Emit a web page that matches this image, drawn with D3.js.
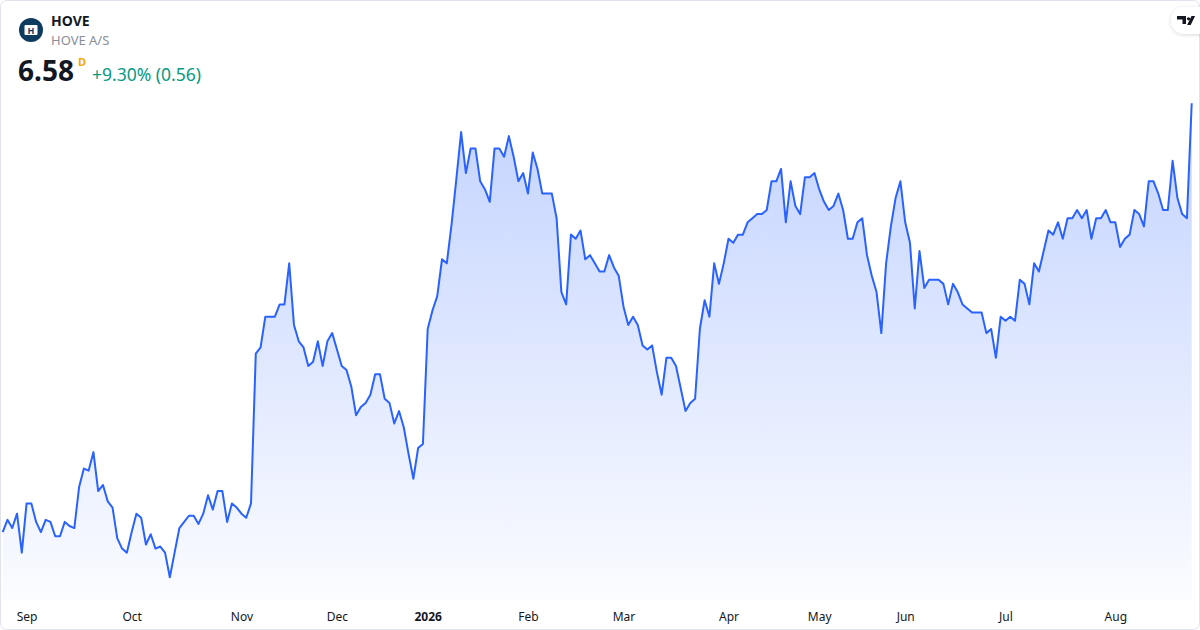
<!DOCTYPE html>
<html>
<head>
<meta charset="utf-8">
<script src="https://cdn.jsdelivr.net/npm/d3@7"></script>
<style>
  html, body { margin: 0; padding: 0; background: #fff; }
  svg { display: block; font-family: "Noto Sans", "Open Sans", sans-serif; }
</style>
</head>
<body>
<svg id="chart" width="1200" height="630"></svg>
<script>
// daily closes, HOVE A/S, Aug 2025 - Aug 2026
var closes = [
  4.49, 4.55, 4.51, 4.58, 4.39, 4.63, 4.63, 4.54, 4.49, 4.55,
  4.54, 4.47, 4.47, 4.54, 4.52, 4.51, 4.71, 4.80, 4.79, 4.88,
  4.69, 4.72, 4.64, 4.61, 4.46, 4.41, 4.39, 4.49, 4.58, 4.56,
  4.43, 4.48, 4.41, 4.42, 4.39, 4.27, 4.39, 4.51, 4.54, 4.57,
  4.57, 4.53, 4.58, 4.67, 4.60, 4.69, 4.69, 4.54, 4.63, 4.61,
  4.58, 4.56, 4.63, 5.36, 5.39, 5.54, 5.54, 5.54, 5.60, 5.60,
  5.80, 5.50, 5.42, 5.39, 5.30, 5.32, 5.42, 5.30, 5.42, 5.46,
  5.38, 5.30, 5.28, 5.20, 5.06, 5.10, 5.12, 5.16, 5.26, 5.26,
  5.14, 5.12, 5.02, 5.08, 5.00, 4.87, 4.75, 4.90, 4.92, 5.48,
  5.57, 5.64, 5.82, 5.80, 5.99, 6.21, 6.44, 6.24, 6.36, 6.36,
  6.20, 6.16, 6.10, 6.36, 6.36, 6.32, 6.42, 6.32, 6.20, 6.24,
  6.14, 6.34, 6.26, 6.14, 6.14, 6.14, 6.02, 5.66, 5.60, 5.94,
  5.92, 5.96, 5.82, 5.84, 5.80, 5.76, 5.76, 5.84, 5.78, 5.74,
  5.59, 5.50, 5.54, 5.50, 5.40, 5.38, 5.40, 5.27, 5.16, 5.34,
  5.34, 5.30, 5.19, 5.08, 5.12, 5.14, 5.48, 5.62, 5.54, 5.80,
  5.70, 5.80, 5.92, 5.90, 5.94, 5.94, 6.00, 6.02, 6.04, 6.04,
  6.06, 6.20, 6.20, 6.26, 6.00, 6.20, 6.08, 6.04, 6.22, 6.22,
  6.24, 6.16, 6.10, 6.06, 6.08, 6.14, 6.06, 5.92, 5.92, 6.00,
  6.02, 5.84, 5.74, 5.66, 5.46, 5.80, 5.98, 6.12, 6.20, 6.00,
  5.90, 5.58, 5.86, 5.68, 5.72, 5.72, 5.72, 5.70, 5.60, 5.70,
  5.66, 5.60, 5.58, 5.56, 5.56, 5.56, 5.46, 5.48, 5.34, 5.54,
  5.52, 5.54, 5.52, 5.72, 5.70, 5.60, 5.80, 5.76, 5.86, 5.96,
  5.94, 6.00, 5.92, 6.02, 6.02, 6.06, 6.02, 6.06, 5.92, 6.02,
  6.02, 6.06, 6.00, 6.00, 5.88, 5.92, 5.94, 6.06, 6.04, 5.98,
  6.20, 6.20, 6.14, 6.06, 6.06, 6.30, 6.12, 6.04, 6.02, 6.58
];

// first trading day of each month (bar index) and its label
var tickIdx = [5, 27, 50, 70, 89, 110, 130, 152, 171, 189, 210, 233];
var tickLabels = ["Sep", "Oct", "Nov", "Dec", "2026", "Feb", "Mar", "Apr", "May", "Jun", "Jul", "Aug"];

var symbol = "HOVE";
var company = "HOVE A/S";

var W = 1200, H = 630;
var svg = d3.select("#chart");

// frame
svg.append("rect")
  .attr("x", 0.5).attr("y", 0.5)
  .attr("width", W - 1).attr("height", H - 1)
  .attr("rx", 6)
  .attr("fill", "#fff")
  .attr("stroke", "#e0e3eb");

var x = d3.scaleLinear()
  .domain([0, closes.length - 1])
  .range([2.7, 1191.7]);

var y = d3.scaleLinear()
  .domain(d3.extent(closes))
  .range([577.3, 103.3]);

var defs = svg.append("defs");
var grad = defs.append("linearGradient")
  .attr("id", "fillGrad")
  .attr("gradientUnits", "userSpaceOnUse")
  .attr("x1", 0).attr("x2", 0)
  .attr("y1", y.range()[1]).attr("y2", 600);
grad.append("stop").attr("offset", "0%").attr("stop-color", "#2962ff").attr("stop-opacity", 0.28);
grad.append("stop").attr("offset", "100%").attr("stop-color", "#2962ff").attr("stop-opacity", 0.02);

var area = d3.area()
  .x(function(d, i){ return x(i); })
  .y0(600)
  .y1(function(d){ return y(d); });

var line = d3.line()
  .x(function(d, i){ return x(i); })
  .y(function(d){ return y(d); });

svg.append("path")
  .datum(closes)
  .attr("d", area)
  .attr("fill", "url(#fillGrad)");

svg.append("path")
  .datum(closes)
  .attr("d", line)
  .attr("fill", "none")
  .attr("stroke", "#2962ff")
  .attr("stroke-width", 2)
  .attr("stroke-linejoin", "round");

// time axis
var xAxis = d3.axisBottom(x)
  .tickValues(tickIdx)
  .tickSize(0)
  .tickPadding(0)
  .tickFormat(function(d, i){ return tickLabels[i]; });

var gx = svg.append("g")
  .attr("transform", "translate(0,617)")
  .call(xAxis);
gx.select(".domain").remove();
gx.selectAll("text")
  .attr("dy", "0.32em")
  .attr("fill", "#131722")
  .style("font-size", "12px")
  .style("font-family", "'Noto Sans', sans-serif")
  .style("font-weight", function(d, i){ return tickLabels[i] === "2026" ? 700 : 400; });

// header
var hdr = svg.append("g");
hdr.append("circle").attr("cx", 31).attr("cy", 30).attr("r", 12).attr("fill", "#0f3b5f");
hdr.append("rect").attr("x", 24.5).attr("y", 25).attr("width", 13).attr("height", 10).attr("rx", 1).attr("fill", "#fff");
hdr.append("text").attr("x", 31).attr("y", 33.8)
  .attr("text-anchor", "middle")
  .attr("fill", "#0f3b5f")
  .style("font-size", "9px").style("font-weight", 700)
  .text("H");

hdr.append("text").attr("x", 51).attr("y", 26)
  .attr("fill", "#131722")
  .style("font-size", "14px").style("font-weight", 700)
  .text(symbol);
hdr.append("text").attr("x", 51).attr("y", 45)
  .attr("fill", "#8a8e99")
  .style("font-size", "13px")
  .text(company);

var last = closes[closes.length - 1];
var prev = closes[closes.length - 2];
var chg = last - prev;
var pct = chg / prev * 100;

hdr.append("text").attr("x", 18).attr("y", 81)
  .attr("fill", "#131722")
  .style("font-size", "28px").style("font-weight", 700)
  .text(last.toFixed(2));
hdr.append("text").attr("x", 78).attr("y", 66)
  .attr("fill", "#f7a600")
  .style("font-size", "11px").style("font-weight", 700)
  .text("D");
hdr.append("text").attr("x", 92).attr("y", 81)
  .attr("fill", "#089981")
  .style("font-size", "17.5px")
  .text((chg >= 0 ? "+" : "") + pct.toFixed(2) + "% (" + chg.toFixed(2) + ")");

// TradingView badge
var badge = svg.append("g");
defs.append("filter").attr("id", "shadow")
  .append("feDropShadow")
  .attr("dx", 0).attr("dy", 1).attr("stdDeviation", 2)
  .attr("flood-color", "#000").attr("flood-opacity", 0.15);
badge.append("rect")
  .attr("x", 1171).attr("y", 7).attr("width", 40).attr("height", 27).attr("rx", 13.5)
  .attr("fill", "#fff").attr("filter", "url(#shadow)");
badge.append("path")
  .attr("d", "M1177 16h9v8h-3.5v-4.5h-5.5z M1188.5 17.2a1.6 1.6 0 1 0 0.01 0z M1191.5 16h3.6l-4.4 9h-3.6z")
  .attr("fill", "#131722");
</script>
</body>
</html>
